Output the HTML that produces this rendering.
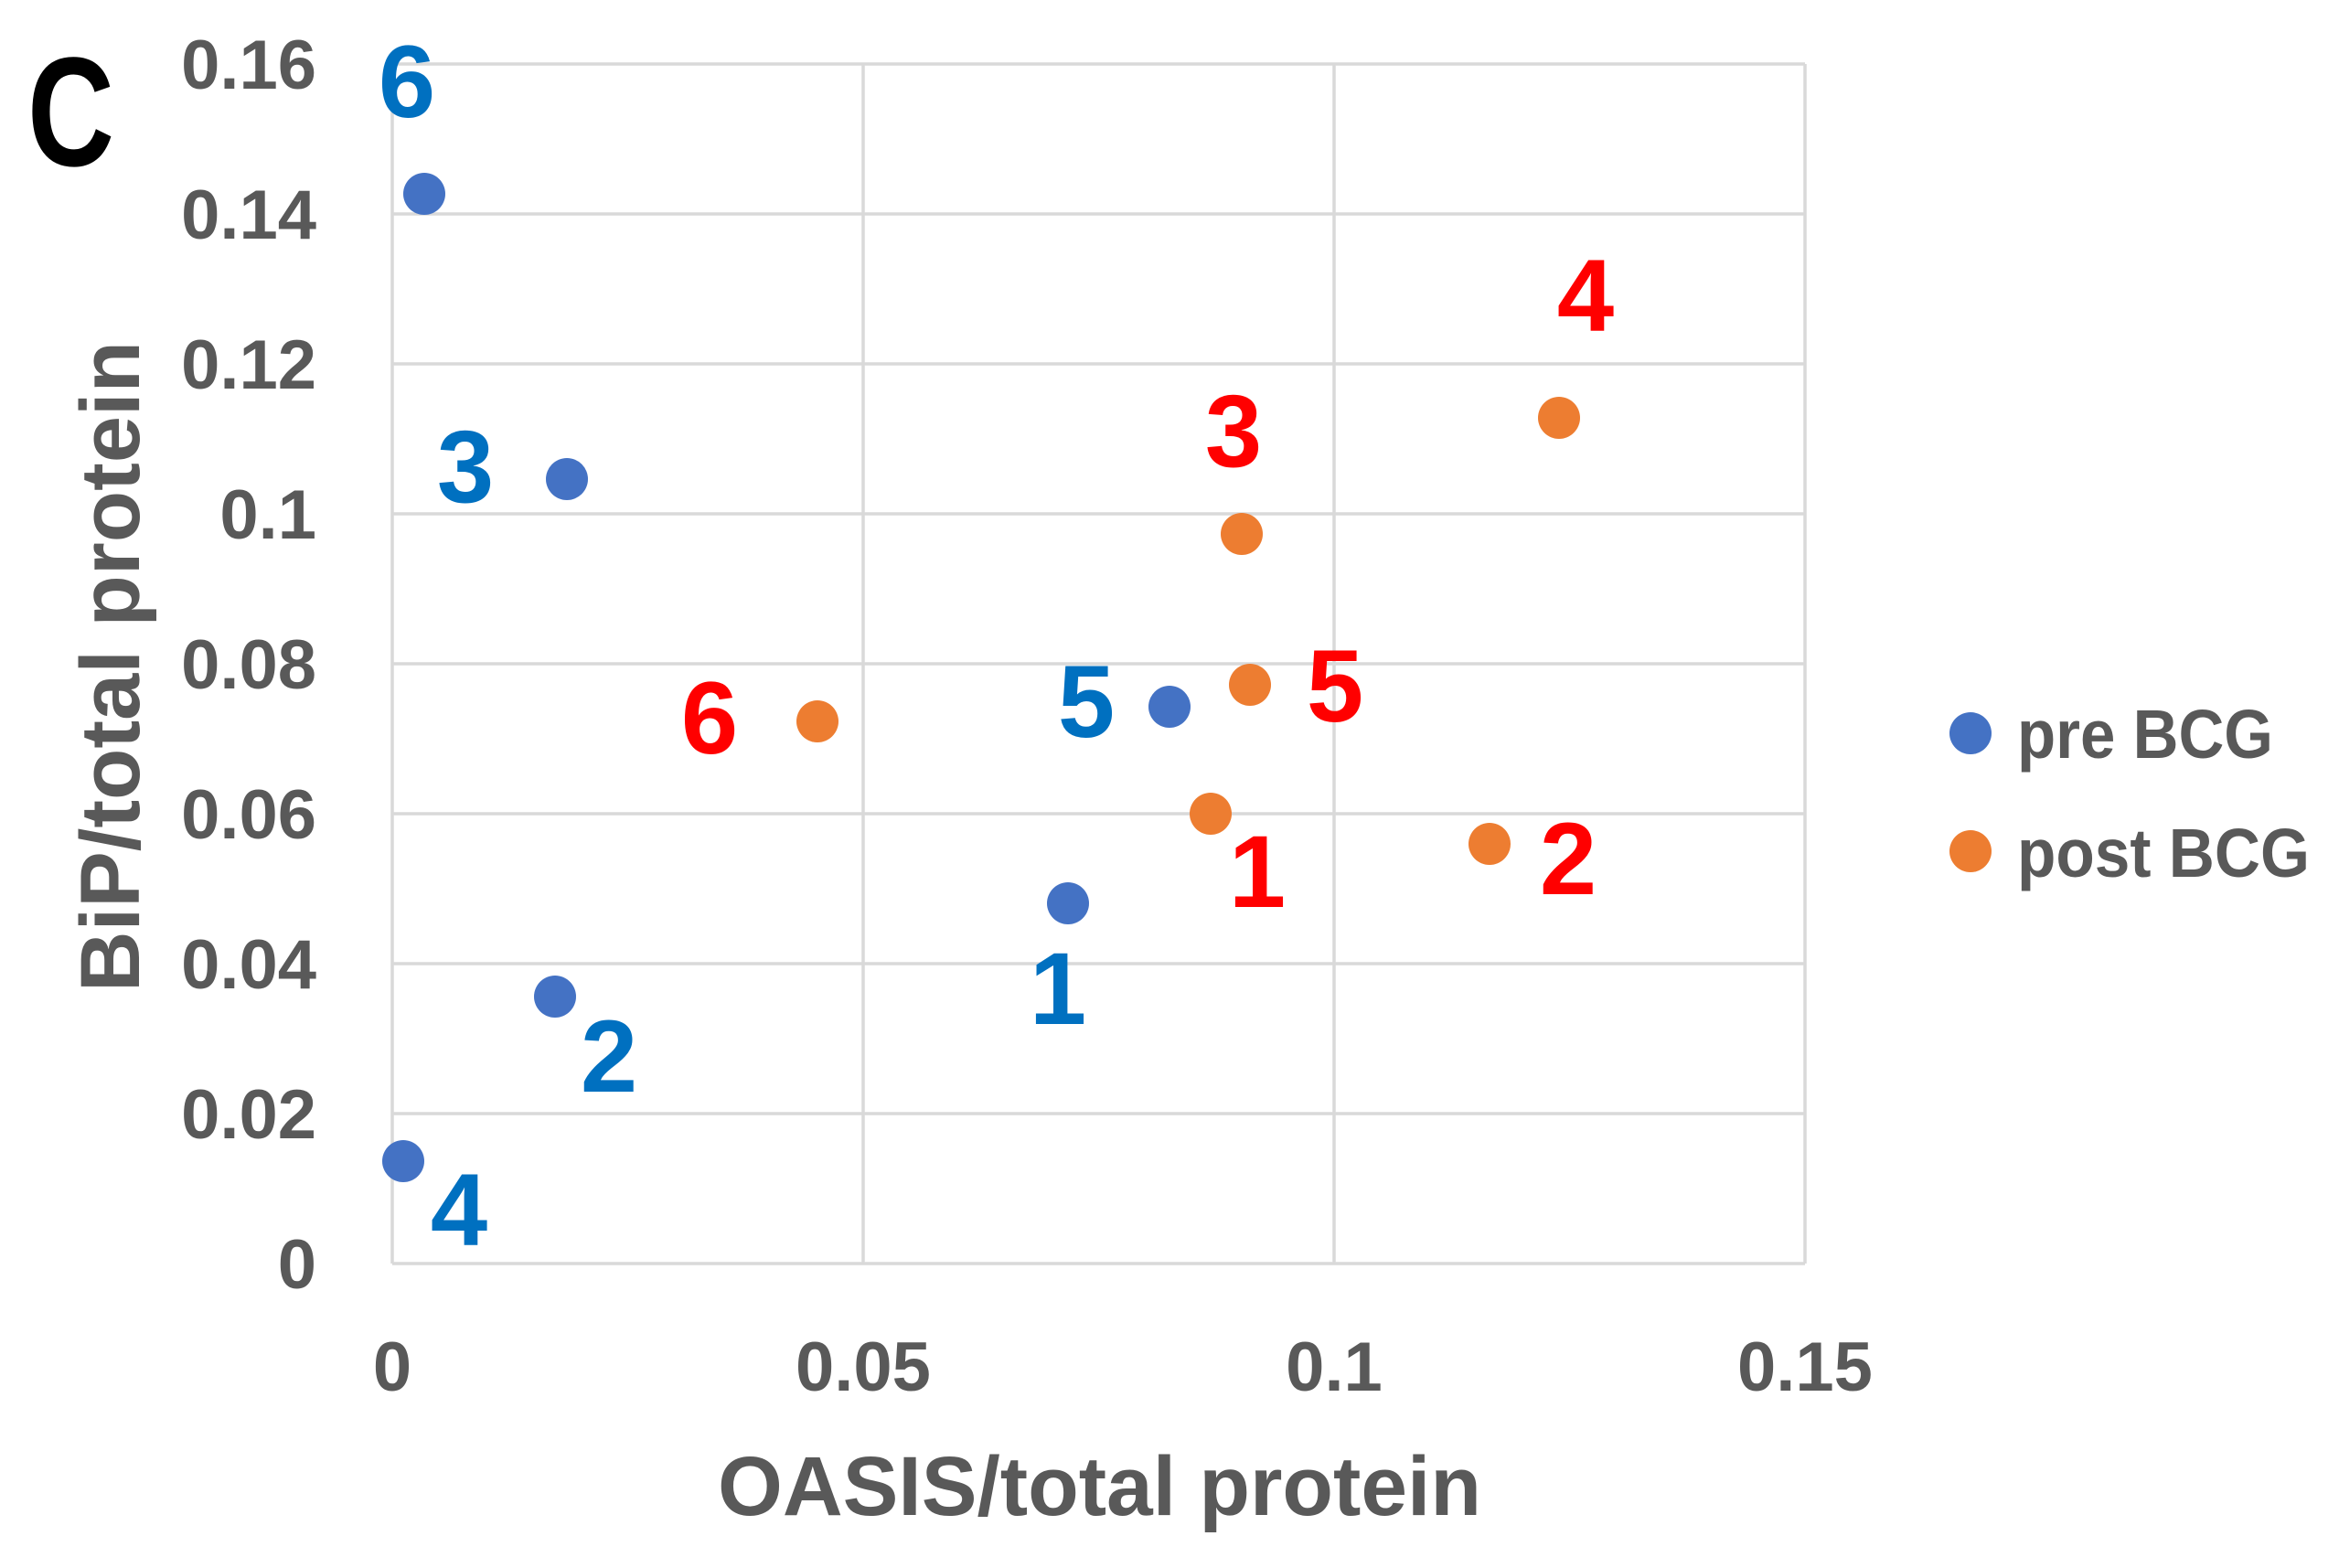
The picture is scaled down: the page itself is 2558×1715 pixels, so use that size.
<!DOCTYPE html>
<html><head><meta charset="utf-8"><style>
html,body{margin:0;padding:0;background:#fff;}
svg{display:block;}
text{font-family:"Liberation Sans",Arial,sans-serif;font-weight:bold;}
</style></head><body>
<svg width="2558" height="1715" viewBox="0 0 2558 1715" xmlns="http://www.w3.org/2000/svg">
<rect width="2558" height="1715" fill="#fff"/>
<g stroke="#D9D9D9" stroke-width="3.5" fill="none">
<line x1="429" y1="70" x2="1974" y2="70"/>
<line x1="429" y1="234" x2="1974" y2="234"/>
<line x1="429" y1="398" x2="1974" y2="398"/>
<line x1="429" y1="562" x2="1974" y2="562"/>
<line x1="429" y1="726" x2="1974" y2="726"/>
<line x1="429" y1="890" x2="1974" y2="890"/>
<line x1="429" y1="1054" x2="1974" y2="1054"/>
<line x1="429" y1="1218" x2="1974" y2="1218"/>
<line x1="429" y1="1382" x2="1974" y2="1382"/>
<line x1="429" y1="70" x2="429" y2="1382"/>
<line x1="944" y1="70" x2="944" y2="1382"/>
<line x1="1459" y1="70" x2="1459" y2="1382"/>
<line x1="1974" y1="70" x2="1974" y2="1382"/>
</g>
<text x="30" y="181" font-size="170" fill="#000" textLength="95" lengthAdjust="spacingAndGlyphs">C</text>
<g fill="#595959" font-size="76" text-anchor="end">
<text x="346" y="97">0.16</text>
<text x="346" y="261">0.14</text>
<text x="346" y="425">0.12</text>
<text x="346" y="589">0.1</text>
<text x="346" y="753">0.08</text>
<text x="346" y="917">0.06</text>
<text x="346" y="1081">0.04</text>
<text x="346" y="1245">0.02</text>
<text x="346" y="1409">0</text>
</g>
<g fill="#595959" font-size="76" text-anchor="middle">
<text x="429" y="1521">0</text>
<text x="944" y="1521">0.05</text>
<text x="1459" y="1521">0.1</text>
<text x="1974" y="1521">0.15</text>
</g>
<text x="785" y="1657" font-size="92" fill="#595959" textLength="835" lengthAdjust="spacingAndGlyphs">OASIS/total protein</text>
<text transform="translate(152,729) rotate(-90)" x="0" y="0" font-size="92" fill="#595959" text-anchor="middle" textLength="712" lengthAdjust="spacingAndGlyphs">BiP/total protein</text>
<g fill="#4472C4">
<circle cx="464" cy="212" r="23"/>
<circle cx="620" cy="524" r="23"/>
<circle cx="607" cy="1090" r="23"/>
<circle cx="441" cy="1270" r="23"/>
<circle cx="1168" cy="988" r="23"/>
<circle cx="1279" cy="773" r="23"/>
</g>
<g fill="#ED7D31">
<circle cx="1705" cy="457" r="23"/>
<circle cx="1358" cy="584" r="23"/>
<circle cx="1367" cy="749" r="23"/>
<circle cx="894" cy="789" r="23"/>
<circle cx="1324" cy="890" r="23"/>
<circle cx="1629" cy="923" r="23"/>
</g>
<g fill="#0070C0" font-size="112" text-anchor="middle">
<text x="445" y="128">6</text>
<text x="509" y="549">3</text>
<text x="666" y="1194">2</text>
<text x="502" y="1362">4</text>
<text x="1157" y="1120">1</text>
<text x="1188" y="806">5</text>
</g>
<g fill="#FF0000" font-size="112" text-anchor="middle">
<text x="776" y="824">6</text>
<text x="1349" y="510">3</text>
<text x="1460" y="789">5</text>
<text x="1375" y="992">1</text>
<text x="1715" y="978">2</text>
<text x="1734" y="362">4</text>
</g>
<circle cx="2155" cy="802" r="23" fill="#4472C4"/>
<circle cx="2155" cy="931" r="23" fill="#ED7D31"/>
<text x="2206" y="829" font-size="75" fill="#595959" textLength="280" lengthAdjust="spacingAndGlyphs">pre BCG</text>
<text x="2206" y="959" font-size="75" fill="#595959" textLength="320" lengthAdjust="spacingAndGlyphs">post BCG</text>
</svg>
</body></html>
